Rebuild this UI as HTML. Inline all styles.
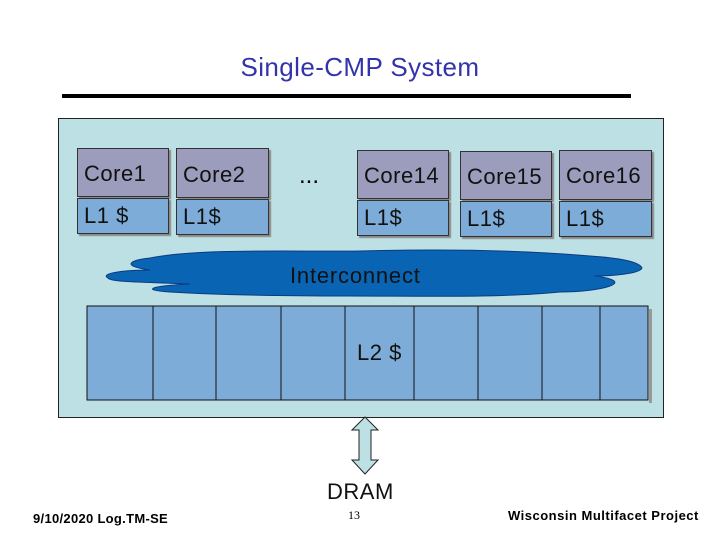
<!DOCTYPE html>
<html><head><style>
body{margin:0;width:720px;height:540px;background:#fff;position:relative;overflow:hidden;font-family:"Liberation Sans",sans-serif}
.a{position:absolute}
.core{position:absolute;background:#9c9cbc;border:1px solid #333;box-shadow:2px 2px 1px #888;font-size:22px;color:#111;box-sizing:border-box;padding:10px 0 0 6px;letter-spacing:0.5px}
.l1{position:absolute;background:#7dacd8;border:1px solid #333;box-shadow:2px 2px 1px #888;font-size:22px;color:#111;box-sizing:border-box;padding:4px 0 0 6px;letter-spacing:0.5px}
</style></head><body>
<div class="a" style="left:0;width:720px;top:52px;text-align:center;font-size:26px;color:#3333aa;letter-spacing:0.4px">Single-CMP System</div>
<div class="a" style="left:62px;top:94px;width:569px;height:4px;background:#000"></div>
<div class="a" style="left:58px;top:118px;width:606px;height:300px;background:#bde0e4;border:1px solid #222;box-sizing:border-box"></div>

<div class="core" style="left:77px;top:148px;width:92px;height:49px;padding-top:12px">Core1</div>
<div class="l1" style="left:77px;top:198px;width:92px;height:36px">L1 $</div>
<div class="core" style="left:176px;top:148px;width:93px;height:50px;padding-top:13px">Core2</div>
<div class="l1" style="left:176px;top:199px;width:93px;height:36px">L1$</div>
<div class="a" style="left:299px;top:162px;font-size:24px">...</div>
<div class="core" style="left:357px;top:150px;width:92px;height:49px;padding-top:12px">Core14</div>
<div class="l1" style="left:357px;top:200px;width:92px;height:36px">L1$</div>
<div class="core" style="left:460px;top:151px;width:92px;height:49px;padding-top:12px">Core15</div>
<div class="l1" style="left:460px;top:201px;width:92px;height:36px">L1$</div>
<div class="core" style="left:559px;top:150px;width:93px;height:50px;padding-top:12px">Core16</div>
<div class="l1" style="left:559px;top:201px;width:93px;height:36px">L1$</div>

<svg class="a" style="left:0;top:0" width="720" height="540">
<path d="M150,258 C200,248 300,252 360,251 C440,249 520,250 590,256 C620,258 640,262 642,268 C640,274 610,276 595,276 C640,282 600,292 560,292 C500,298 420,296 350,296 C280,296 220,295 170,292 C140,290 150,286 190,284 C140,282 110,282 108,278 C100,274 120,270 150,270 C120,266 130,260 150,258 Z" fill="#0a64b4" stroke="#0a3c80" stroke-width="1"/>
<rect x="87" y="306" width="561" height="94" fill="#7dacd8" stroke="#111"/>
<rect x="649" y="309" width="3" height="94" fill="#999"/>
<g stroke="#111">
<line x1="153" y1="306" x2="153" y2="400"/><line x1="216" y1="306" x2="216" y2="400"/>
<line x1="281" y1="306" x2="281" y2="400"/><line x1="345" y1="306" x2="345" y2="400"/>
<line x1="414" y1="306" x2="414" y2="400"/><line x1="478" y1="306" x2="478" y2="400"/>
<line x1="542" y1="306" x2="542" y2="400"/><line x1="600" y1="306" x2="600" y2="400"/>
</g>
<path d="M365,417 L378,430 L371,430 L371,460 L378,460 L365,474 L352,460 L359,460 L359,430 L352,430 Z" fill="#bde0e4" stroke="#222"/>
</svg>
<div class="a" style="left:290px;top:263px;font-size:22px;color:#111;letter-spacing:0.8px">Interconnect</div>
<div class="a" style="left:357px;top:340px;font-size:22px;color:#111;letter-spacing:0.5px">L2 $</div>
<div class="a" style="left:327px;top:479px;font-size:22px;color:#111;letter-spacing:0.5px">DRAM</div>
<div class="a" style="left:33px;top:511px;font-size:13px;font-weight:bold;letter-spacing:0.3px">9/10/2020 Log.TM-SE</div>
<div class="a" style="left:348px;top:508px;font-size:12px;font-family:'Liberation Serif',serif">13</div>
<div class="a" style="left:508px;top:508px;font-size:13px;font-weight:bold;letter-spacing:0.5px">Wisconsin Multifacet Project</div>
</body></html>
